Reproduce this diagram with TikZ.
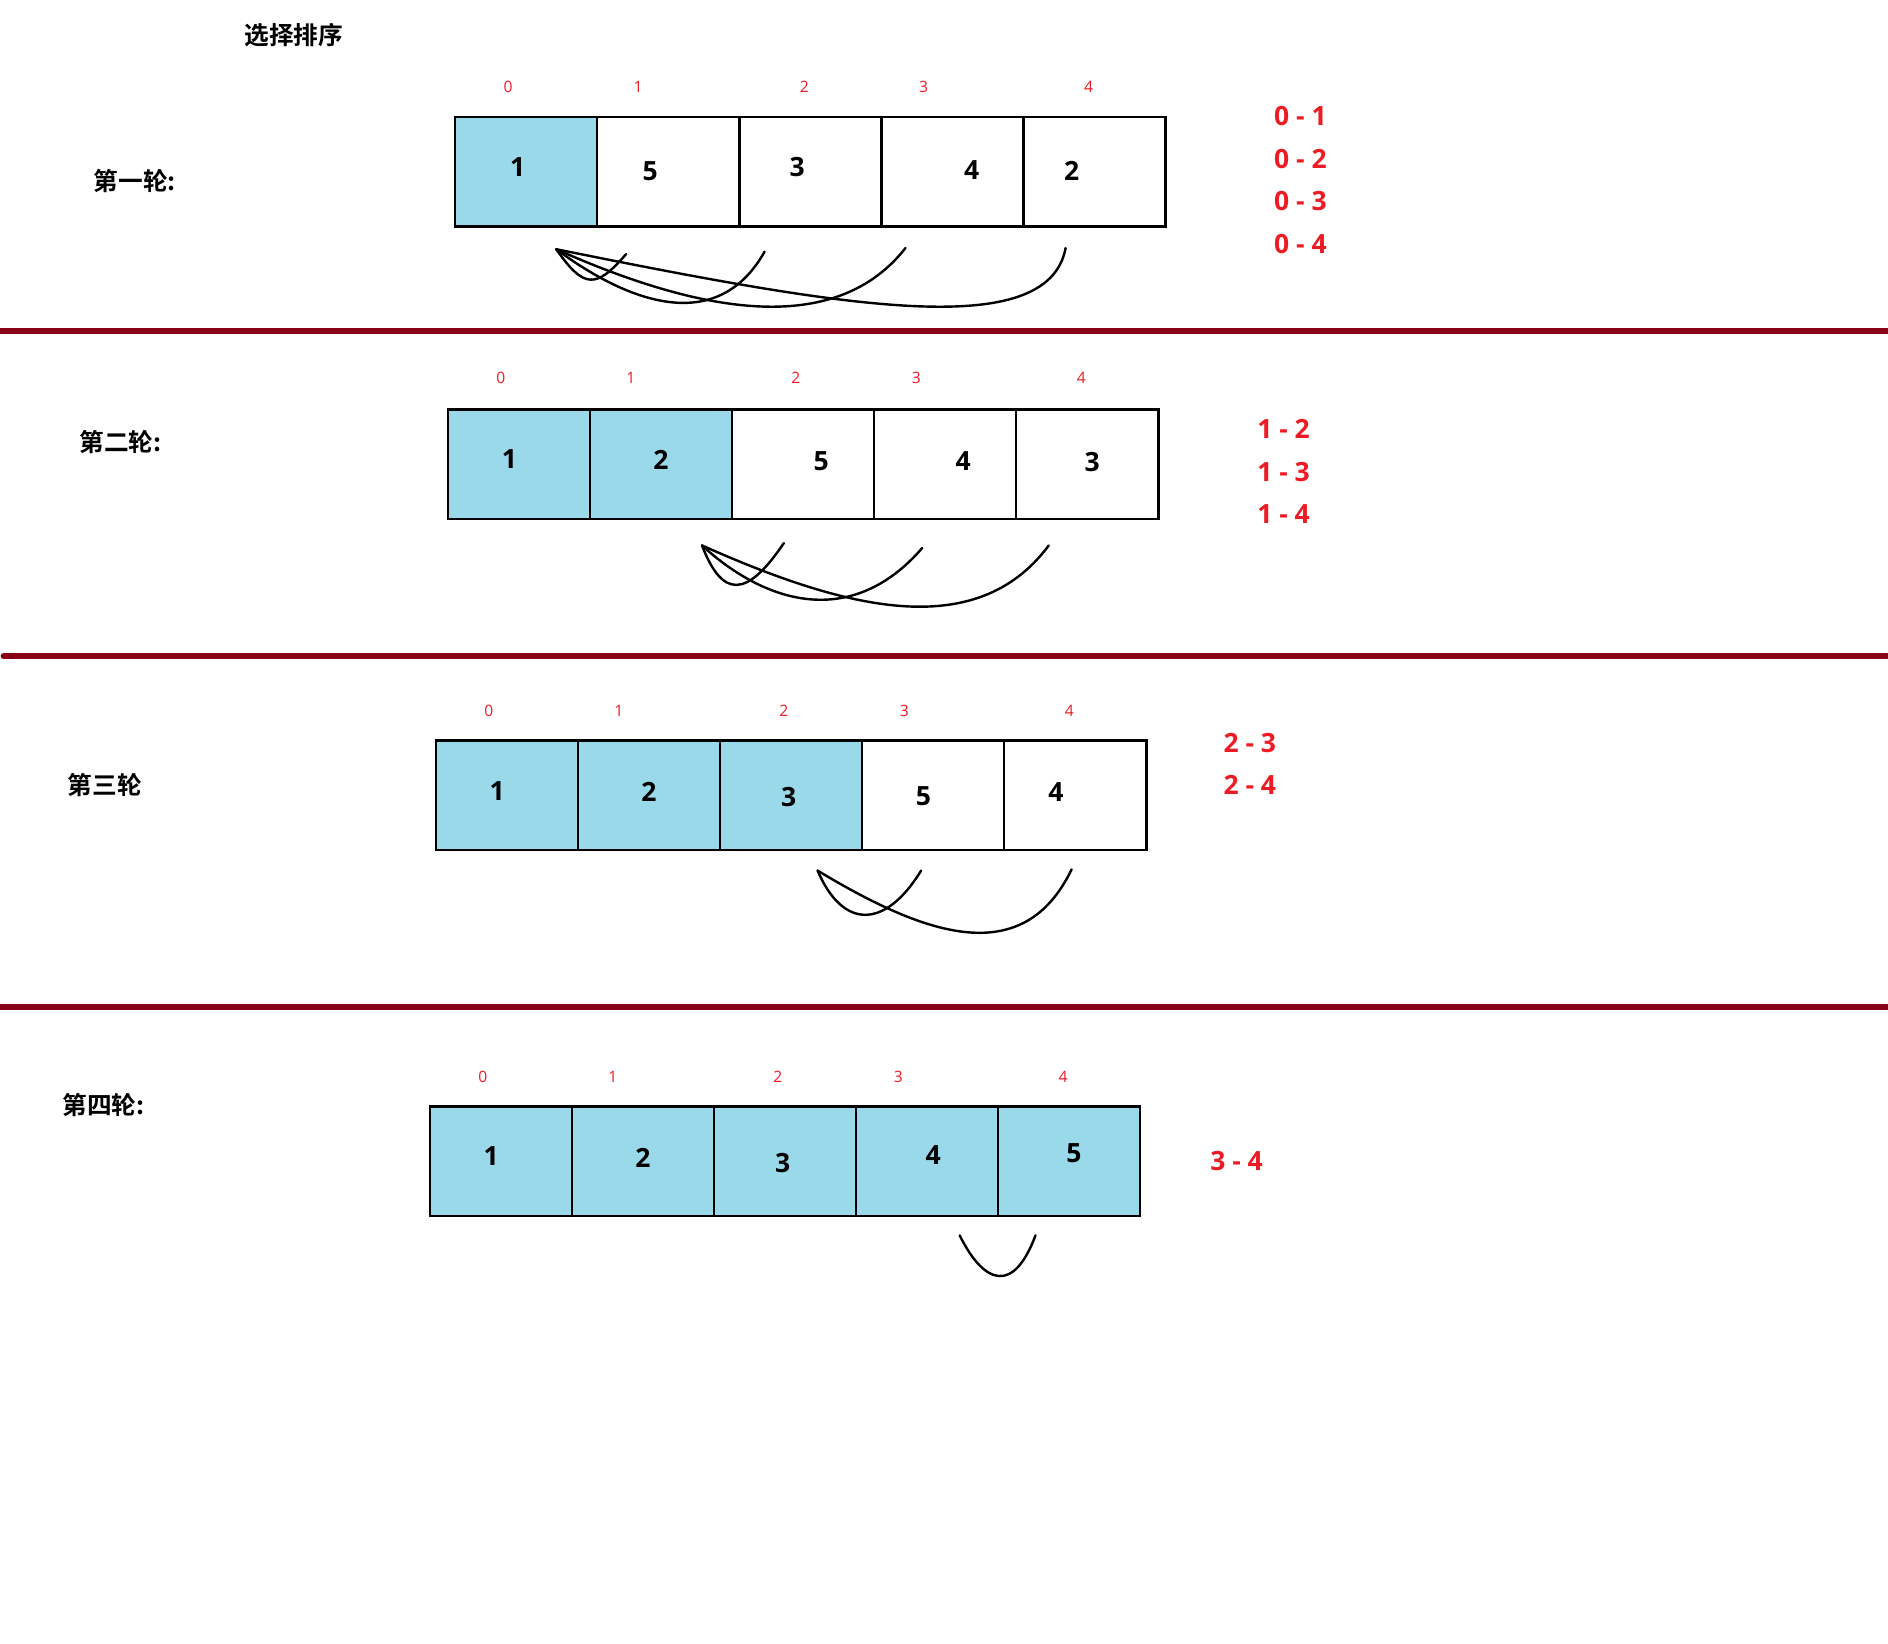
\documentclass[tikz,border=0pt]{standalone}
\usepackage{fontspec}
\setmainfont{Open Sans}
\newfontfamily\cjk{Noto Sans CJK SC}[BoldFont={Noto Sans CJK SC Bold}]
\definecolor{cellblue}{HTML}{99D9EA}
\definecolor{txtred}{HTML}{ED1C24}
\definecolor{sepred}{HTML}{880015}
\begin{document}
\begin{tikzpicture}[x=1pt,y=-1pt,
  cellbox/.style={draw, line width=2pt, minimum width=118pt, minimum height=91pt, inner sep=0pt, anchor=north west},
  bluecell/.style={cellbox, fill=cellblue},
  whitecell/.style={cellbox, fill=white},
  valtxt/.style={font=\fontsize{22}{22}\selectfont\bfseries, inner sep=0pt},
  idxtxt/.style={font=\fontsize{13}{13}\selectfont, text=txtred, inner sep=0pt},
  pairtxt/.style={font=\fontsize{22}{22}\selectfont\bfseries, text=txtred, inner sep=0pt},
  roundtxt/.style={font=\cjk\bfseries\fontsize{20.5}{20.5}\selectfont, inner sep=0pt},
  sep/.style={draw=sepred, line width=5pt, line cap=round},
  swing/.style={draw, line width=2pt, line cap=round, line join=round}]
\useasboundingbox (0,0) rectangle (1568,1365);

\node[roundtxt] (title) at (244,29) {选择排序};

% separators
\coordinate (s1a) at (-5,275); \coordinate (s1b) at (1575,275);
\coordinate (s2a) at (3,545);  \coordinate (s2b) at (1575,545);
\coordinate (s3a) at (-5,836); \coordinate (s3b) at (1575,836);
\draw[sep] (s1a) -- (s1b);
\draw[sep] (s2a) -- (s2b);
\draw[sep] (s3a) -- (s3b);

% ---------- round 1 ----------
\node[roundtxt] (r1) at (112,150) {第一轮:};
\node[bluecell]  (c10) at (377,96) {};
\node[whitecell] (c11) at (495,96) {};
\node[whitecell] (c12) at (613,96) {};
\node[whitecell] (c13) at (731,96) {};
\node[whitecell] (c14) at (849,96) {};
\node[idxtxt] (i10) at (422,72) {0};
\node[idxtxt] (i11) at (530,72) {1};
\node[idxtxt] (i12) at (668,72) {2};
\node[idxtxt] (i13) at (767,72) {3};
\node[idxtxt] (i14) at (904,72) {4};
\node[valtxt] (v10) at (430,139) {1};
\node[valtxt] (v11) at (540,142) {5};
\node[valtxt] (v12) at (662,139) {3};
\node[valtxt] (v13) at (807,141) {4};
\node[valtxt] (v14) at (890,142) {2};
\node[pairtxt] (p11) at (1080,96) {0 - 1};
\node[pairtxt] (p12) at (1080,132) {0 - 2};
\node[pairtxt] (p13) at (1080,167) {0 - 3};
\node[pairtxt] (p14) at (1080,203) {0 - 4};
\coordinate (a10) at (462,207);
\coordinate (a11) at (520,211);
\coordinate (a12) at (635,209);
\coordinate (a13) at (752,206);
\coordinate (a14) at (885,206);
\draw[swing] (a10) .. controls (485,240) and (495,240) .. (a11);
\draw[swing] (a10) .. controls (520,250) and (595,280) .. (a12);
\draw[swing] (a10) .. controls (570,255) and (690,285) .. (a13);
\draw[swing] (a10) .. controls (700,255) and (870,285) .. (a14);

% ---------- round 2 ----------
\node[roundtxt] (r2) at (100,367) {第二轮:};
\node[bluecell]  (c20) at (371,339) {};
\node[bluecell]  (c21) at (489,339) {};
\node[whitecell] (c22) at (607,339) {};
\node[whitecell] (c23) at (725,339) {};
\node[whitecell] (c24) at (843,339) {};
\node[idxtxt] (i20) at (416,314) {0};
\node[idxtxt] (i21) at (524,314) {1};
\node[idxtxt] (i22) at (661,314) {2};
\node[idxtxt] (i23) at (761,314) {3};
\node[idxtxt] (i24) at (898,314) {4};
\node[valtxt] (v20) at (423,381) {1};
\node[valtxt] (v21) at (549,382) {2};
\node[valtxt] (v22) at (682,383) {5};
\node[valtxt] (v23) at (800,383) {4};
\node[valtxt] (v24) at (907,384) {3};
\node[pairtxt] (p22) at (1066,356) {1 - 2};
\node[pairtxt] (p23) at (1066,392) {1 - 3};
\node[pairtxt] (p24) at (1066,427) {1 - 4};
\coordinate (a21) at (583,453);
\coordinate (a22) at (651,451);
\coordinate (a23) at (766,455);
\coordinate (a24) at (871,453);
\draw[swing] (a21) .. controls (600,497) and (620,497) .. (a22);
\draw[swing] (a21) .. controls (640,505) and (710,520) .. (a23);
\draw[swing] (a21) .. controls (700,505) and (810,535) .. (a24);

% ---------- round 3 ----------
\node[roundtxt] (r3) at (87,652) {第三轮};
\node[bluecell]  (c30) at (361,614) {};
\node[bluecell]  (c31) at (479,614) {};
\node[bluecell]  (c32) at (597,614) {};
\node[whitecell] (c33) at (715,614) {};
\node[whitecell] (c34) at (833,614) {};
\node[idxtxt] (i30) at (406,590) {0};
\node[idxtxt] (i31) at (514,590) {1};
\node[idxtxt] (i32) at (651,590) {2};
\node[idxtxt] (i33) at (751,590) {3};
\node[idxtxt] (i34) at (888,590) {4};
\node[valtxt] (v30) at (413,657) {1};
\node[valtxt] (v31) at (539,658) {2};
\node[valtxt] (v32) at (655,662) {3};
\node[valtxt] (v33) at (767,661) {5};
\node[valtxt] (v34) at (877,658) {4};
\node[pairtxt] (p33) at (1038,617) {2 - 3};
\node[pairtxt] (p34) at (1038,652) {2 - 4};
\coordinate (a32) at (679,723);
\coordinate (a33) at (765,723);
\coordinate (a34) at (890,722);
\draw[swing] (a32) .. controls (700,772) and (735,772) .. (a33);
\draw[swing] (a32) .. controls (770,778) and (850,805) .. (a34);

% ---------- round 4 ----------
\node[roundtxt] (r4) at (86,918) {第四轮:};
\node[bluecell] (c40) at (356,918) {};
\node[bluecell] (c41) at (474,918) {};
\node[bluecell] (c42) at (592,918) {};
\node[bluecell] (c43) at (710,918) {};
\node[bluecell] (c44) at (828,918) {};
\node[idxtxt] (i40) at (401,894) {0};
\node[idxtxt] (i41) at (509,894) {1};
\node[idxtxt] (i42) at (646,894) {2};
\node[idxtxt] (i43) at (746,894) {3};
\node[idxtxt] (i44) at (883,894) {4};
\node[valtxt] (v40) at (408,960) {1};
\node[valtxt] (v41) at (534,962) {2};
\node[valtxt] (v42) at (650,966) {3};
\node[valtxt] (v43) at (775,959) {4};
\node[valtxt] (v44) at (892,958) {5};
\node[pairtxt] (p44) at (1027,964) {3 - 4};
\coordinate (a43) at (797,1026);
\coordinate (a44) at (860,1026);
\draw[swing] (a43) .. controls (818,1068) and (842,1074) .. (a44);
\end{tikzpicture}
\end{document}
